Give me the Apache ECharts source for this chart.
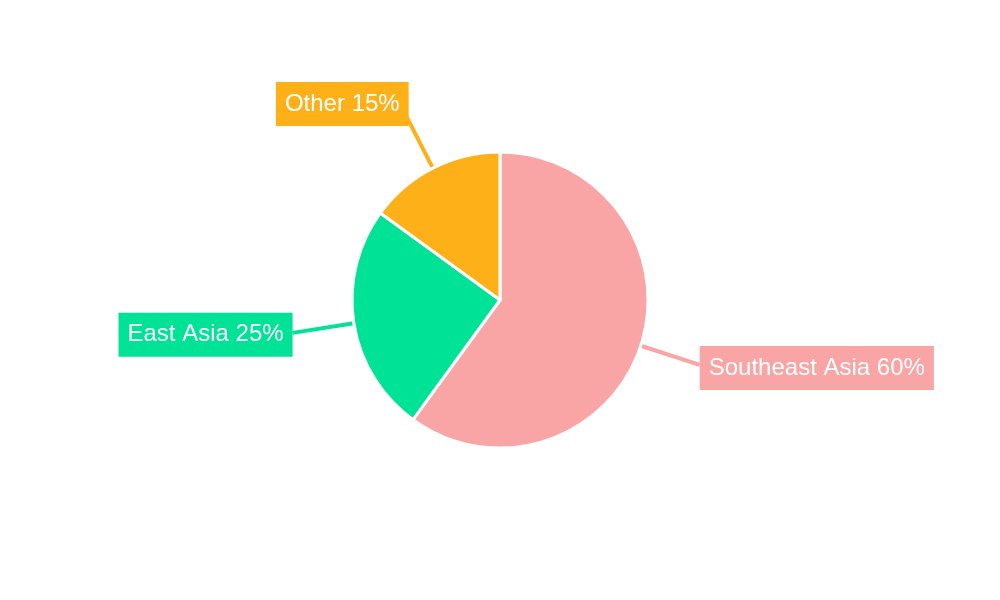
<!DOCTYPE html>
<html>
<head>
<meta charset="utf-8">
<script src="https://cdn.jsdelivr.net/npm/echarts@6/dist/echarts.min.js"></script>
<style>html,body{margin:0;padding:0;background:#fff;}#c{width:1000px;height:600px;}</style>
</head>
<body>
<div id="c"></div>
<script>
const categories = ['Southeast Asia', 'East Asia', 'Other'];
const values = [60, 25, 15];
const colors = ['#F9A4A5', '#00E396', '#FEB019'];
const labelOffsets = [[0, 3], [0, 2], [4, -9]];

const chart = echarts.init(document.getElementById('c'));
chart.setOption({
  animation: false,
  series: [{
    type: 'pie',
    center: [500, 300],
    radius: [0, 148],
    startAngle: 90,
    clockwise: true,
    avoidLabelOverlap: false,
    itemStyle: { borderColor: '#fff', borderWidth: 3 },
    label: {
      show: true,
      position: 'outside',
      formatter: p => p.name + ' ' + p.value + '%',
      color: '#fff',
      fontFamily: 'Liberation Sans, Arial, sans-serif',
      fontSize: 24,
      lineHeight: 24,
      padding: [10, 9, 10, 9],
      distanceToLabelLine: 0
    },
    labelLine: {
      show: true,
      length: 62,
      length2: 0,
      smooth: false,
      lineStyle: { width: 4 }
    },
    emphasis: { disabled: true },
    data: categories.map((c, i) => ({
      name: c,
      value: values[i],
      itemStyle: { color: colors[i] },
      label: { backgroundColor: colors[i], offset: labelOffsets[i] },
      labelLine: { lineStyle: { color: colors[i] } }
    }))
  }]
});
</script>
</body>
</html>
